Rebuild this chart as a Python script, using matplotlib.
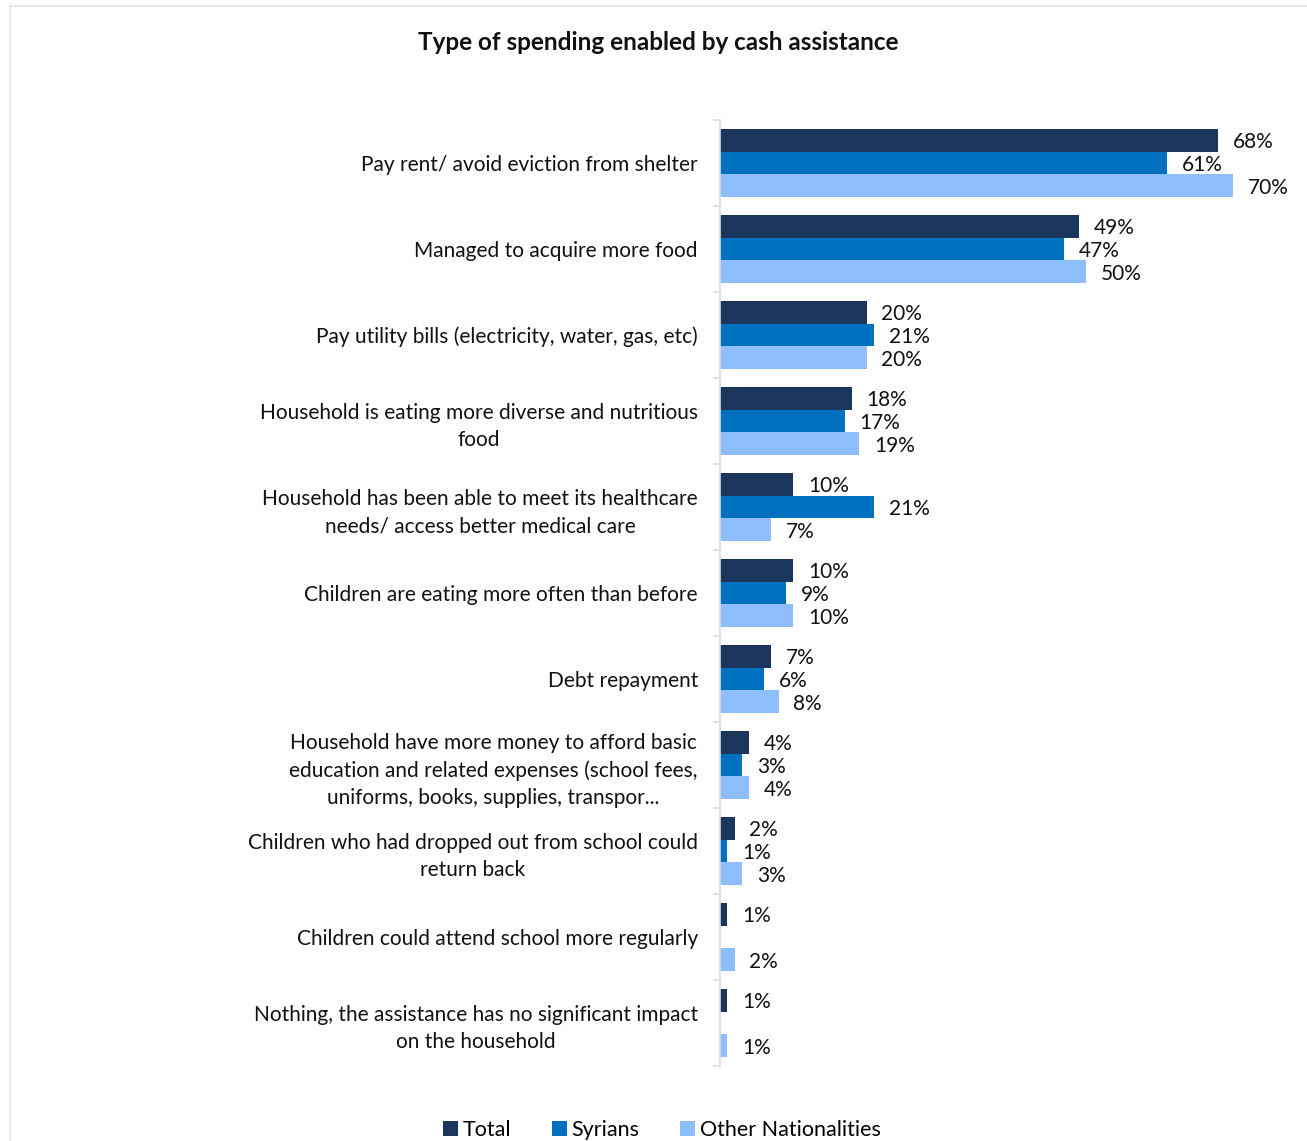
import numpy as np
import matplotlib.pyplot as plt
from matplotlib.patches import Rectangle

plt.rcParams['font.family'] = ['Lato', 'DejaVu Sans']

categories = [
    'Pay rent/ avoid eviction from shelter',
    'Managed to acquire more food',
    'Pay utility bills (electricity, water, gas, etc)',
    'Household is eating more diverse and nutritious\nfood',
    'Household has been able to meet its healthcare\nneeds/ access better medical care',
    'Children are eating more often than before',
    'Debt repayment',
    'Household have more money to afford basic\neducation and related expenses (school fees,\nuniforms, books, supplies, transpor...',
    'Children who had dropped out from school could\nreturn back',
    'Children could attend school more regularly',
    'Nothing, the assistance has no significant impact\non the household',
]
series_names = ['Total', 'Syrians', 'Other Nationalities']
total = [68, 49, 20, 18, 10, 10, 7, 4, 2, 1, 1]
syrians = [61, 47, 21, 17, 21, 9, 6, 3, 1, 0, 0]
others = [70, 50, 20, 19, 7, 10, 8, 4, 3, 2, 1]
colors = ['#1B365D', '#0070C0', '#8FBEFF']

fig = plt.figure(figsize=(13.07, 11.41), dpi=100)
ax = fig.add_axes([0.551, 0.0657, 0.437, 0.8291])

# outer chart border
fig.patches.append(Rectangle((10 / 1307, -0.01), 1.0, 1 - 6 / 1141 + 0.01,
                             transform=fig.transFigure, fill=False,
                             edgecolor='#E3E6EA', linewidth=1.2))

n = len(categories)
y = np.arange(n)
h = 0.265
for i, (vals, name, c) in enumerate(zip([total, syrians, others], series_names, colors)):
    pos = y + (i - 1) * h
    ax.barh(pos, vals, height=h, color=c, label=name)
    for p, v in zip(pos, vals):
        if v > 0:
            ax.text(v + 2.0, p + 0.025, f'{v}%', va='center', ha='left', fontsize=15, color='#111111')

ax.set_ylim(n - 0.5, -0.5)
ax.set_xlim(0, 78)
ax.set_xticks([])
ax.set_yticks(y)
ax.set_yticklabels(categories, fontsize=15, multialignment='center',
                   linespacing=1.45, color='#111111')
ax.tick_params(axis='y', which='major', length=0, pad=16)
ax.set_yticks(np.arange(n + 1) - 0.5, minor=True)
ax.tick_params(axis='y', which='minor', length=5, color='#D9DDE2', width=1.2)
for s in ['top', 'right', 'bottom']:
    ax.spines[s].set_visible(False)
ax.spines['left'].set_color('#D9DDE2')
ax.spines['left'].set_linewidth(1.2)

fig.text(658 / 1307, 1 - 43 / 1141, 'Type of spending enabled by cash assistance',
         ha='center', va='center', fontsize=17.5, fontweight='bold', color='#111111')

handles, labels = ax.get_legend_handles_labels()
fig.legend(handles, labels, loc='center', bbox_to_anchor=(662 / 1307, 1 - 1130 / 1141),
           ncol=3, frameon=False, fontsize=15.5, handlelength=0.7, handleheight=0.7,
           handletextpad=0.2, columnspacing=1.9)

fig.savefig('out.png', dpi=100, facecolor='white')
